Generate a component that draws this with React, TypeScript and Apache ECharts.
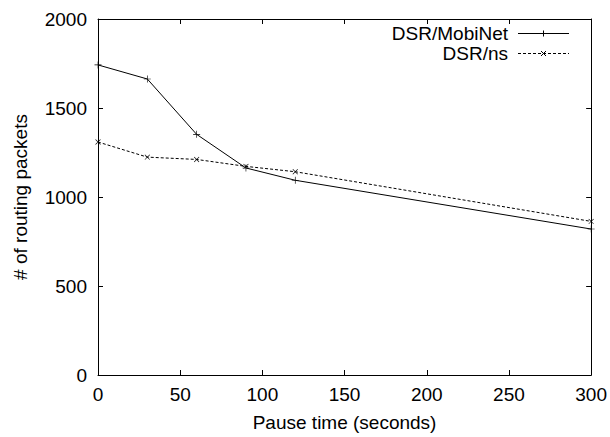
import React, { useEffect, useRef } from "react";
import * as echarts from "echarts";

const pauseTimes = [0, 30, 60, 90, 120, 300];
const mobiNet = [1742, 1663, 1352, 1163, 1094, 820];
const nsValues = [1309, 1224, 1211, 1172, 1142, 863];
const seriesNames = ["DSR/MobiNet", "DSR/ns"];

const FONT = "Liberation Sans, Arial, Helvetica, sans-serif";
const FS = 19;
const plusPath = "path://M0,4.55 L10,4.55 L10,5.45 L0,5.45 Z M4.55,0 L5.45,0 L5.45,10 L4.55,10 Z";

export default function App() {
  const ref = useRef<HTMLDivElement>(null);
  useEffect(() => {
    if (!ref.current) return;
    const chart = echarts.init(ref.current, undefined, { renderer: "svg" });
    const axisCommon = {
      axisLine: { show: true, onZero: false, lineStyle: { color: "#000", width: 1 } },
      axisTick: { show: true, inside: true, length: 5, lineStyle: { color: "#000", width: 1 } },
      splitLine: { show: false },
    };
    const txt = { fontFamily: FONT, fontSize: FS, fill: "#000" };
    const lx1 = 518;
    const lx2 = 569;
    const lmid = (lx1 + lx2) / 2;
    const y1 = 33.5;
    const y2 = 53.5;
    const m = 3;
    const lineSty = { stroke: "#000", lineWidth: 1 };
    chart.setOption({
      animation: false,
      backgroundColor: "#fff",
      grid: { left: 98, right: 18, top: 19, bottom: 62, containLabel: false },
      graphic: [
        { type: "text", x: 508, y: 33, style: { ...txt, text: seriesNames[0], align: "right", verticalAlign: "middle" } },
        { type: "line", shape: { x1: lx1, y1, x2: lx2, y2: y1 }, style: lineSty },
        { type: "line", shape: { x1: lmid - m, y1, x2: lmid + m, y2: y1 }, style: lineSty },
        { type: "line", shape: { x1: lmid, y1: y1 - m, x2: lmid, y2: y1 + m }, style: lineSty },
        { type: "text", x: 508, y: 53, style: { ...txt, text: seriesNames[1], align: "right", verticalAlign: "middle" } },
        { type: "line", shape: { x1: lx1, y1: y2, x2: lx2, y2 }, style: { ...lineSty, lineDash: [3, 2] } },
        { type: "line", shape: { x1: lmid - m + 0.5, y1: y2 - m + 0.5, x2: lmid + m - 0.5, y2: y2 + m - 0.5 }, style: lineSty },
        { type: "line", shape: { x1: lmid - m + 0.5, y1: y2 + m - 0.5, x2: lmid + m - 0.5, y2: y2 - m + 0.5 }, style: lineSty },
      ],
      xAxis: [
        {
          type: "value",
          min: 0,
          max: 300,
          interval: 50,
          position: "bottom",
          name: "Pause time (seconds)",
          nameLocation: "middle",
          nameGap: 38,
          nameTextStyle: { fontFamily: FONT, fontSize: FS, color: "#000" },
          axisLabel: { fontFamily: FONT, fontSize: FS, color: "#000", margin: 10 },
          ...axisCommon,
        },
        {
          type: "value",
          min: 0,
          max: 300,
          interval: 50,
          position: "top",
          axisLabel: { show: false },
          ...axisCommon,
        },
      ],
      yAxis: [
        {
          type: "value",
          min: 0,
          max: 2000,
          interval: 500,
          position: "left",
          name: "# of routing packets",
          nameLocation: "middle",
          nameGap: 68,
          nameTextStyle: { fontFamily: FONT, fontSize: FS, color: "#000" },
          axisLabel: {
            fontFamily: FONT,
            fontSize: FS,
            color: "#000",
            margin: 11,
            formatter: (v: number) => String(v),
          },
          ...axisCommon,
        },
        {
          type: "value",
          min: 0,
          max: 2000,
          interval: 500,
          position: "right",
          axisLabel: { show: false },
          ...axisCommon,
        },
      ],
      series: [
        {
          name: seriesNames[0],
          type: "line",
          data: pauseTimes.map((x, i) => [x, mobiNet[i]]),
          symbol: plusPath,
          symbolSize: 7,
          showAllSymbol: true,
          lineStyle: { color: "#000", width: 1 },
          itemStyle: { color: "#000" },
        },
        {
          name: seriesNames[1],
          type: "line",
          data: pauseTimes.map((x, i) => [x, nsValues[i]]),
          symbol: plusPath,
          symbolRotate: 45,
          symbolSize: 7,
          showAllSymbol: true,
          lineStyle: { color: "#000", width: 1, type: [3, 2] },
          itemStyle: { color: "#000" },
        },
      ],
    });
    return () => chart.dispose();
  }, []);
  return (
    <div
      ref={ref}
      style={{ width: 610, height: 437, position: "absolute", left: 0, top: 0 }}
    />
  );
}
